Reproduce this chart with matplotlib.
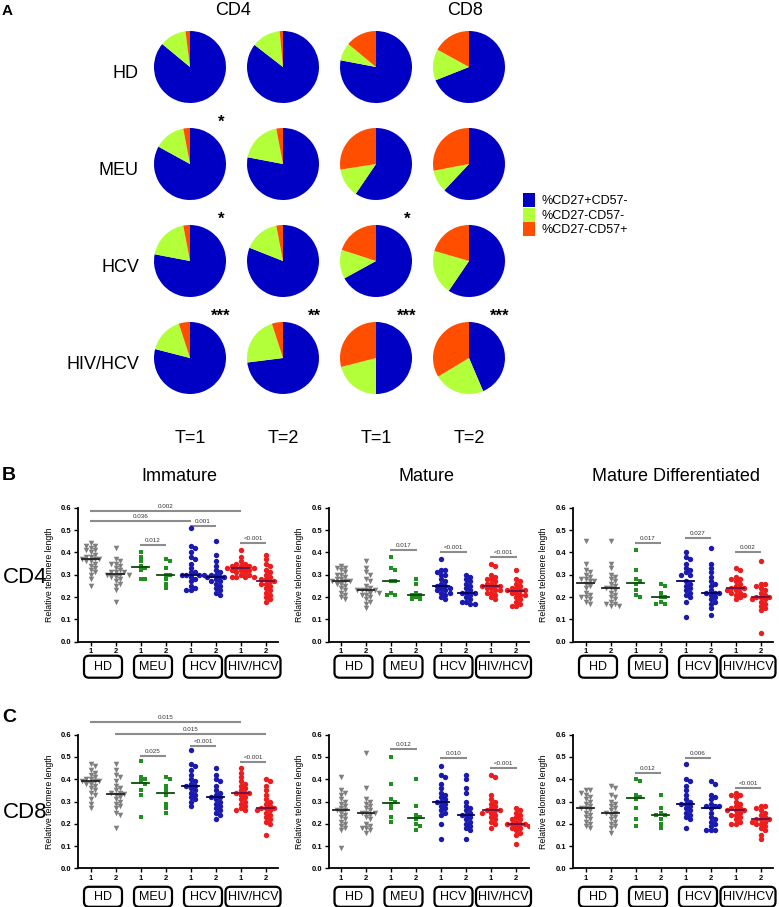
import numpy as np
import matplotlib.pyplot as plt
from matplotlib.patches import FancyBboxPatch, Rectangle
from matplotlib.transforms import IdentityTransform

plt.rcParams['font.family'] = ['Liberation Sans', 'DejaVu Sans']

W, H = 779, 907

# ---------------- panel A data ----------------
pie_rows = ['HD', 'MEU', 'HCV', 'HIV/HCV']
pie_cols = ['T=1', 'T=2', 'T=1', 'T=2']
pie_legend = ['%CD27+CD57-', '%CD27-CD57-', '%CD27-CD57+']
pie_colors = ['#0000c4', '#b2ff3a', '#ff4e00']
# [CD27+CD57-, CD27-CD57-, CD27-CD57+] per row (HD, MEU, HCV, HIV/HCV)
pie_cd4_t1 = [[86, 12, 2], [83, 14, 3], [78, 19, 3], [79, 16, 5]]
pie_cd4_t2 = [[85.5, 13, 1.5], [78, 19, 3], [81, 16, 3], [73, 22, 5]]
pie_cd8_t1 = [[78, 8, 14], [59.5, 13, 27.5], [67, 13, 20], [50, 21, 29]]
pie_cd8_t2 = [[69, 14, 17], [62, 10, 28], [59.5, 20, 20.5], [43.6, 22.8, 33.6]]
pie_stars = [['', '', '', ''], ['*', '', '', ''], ['*', '', '*', ''], ['***', '**', '***', '***']]

# ---------------- panels B / C data ----------------
groups = ['HD', 'MEU', 'HCV', 'HIV/HCV']
xlabels = ['1', '2', '1', '2', '1', '2', '1', '2']
col_titles = ['Immature', 'Mature', 'Mature Differentiated']

imm_cd4 = [
    [0.44, 0.43, 0.43, 0.42, 0.41, 0.41, 0.40, 0.39, 0.38, 0.38, 0.37, 0.37, 0.37, 0.36, 0.36, 0.35, 0.34, 0.33, 0.32, 0.31, 0.30, 0.28, 0.25],
    [0.42, 0.37, 0.36, 0.35, 0.35, 0.34, 0.33, 0.32, 0.31, 0.31, 0.31, 0.30, 0.30, 0.30, 0.29, 0.29, 0.28, 0.27, 0.26, 0.25, 0.23, 0.18],
    [0.40, 0.38, 0.36, 0.34, 0.33, 0.32, 0.28, 0.28],
    [0.37, 0.36, 0.33, 0.30, 0.30, 0.28, 0.26, 0.24],
    [0.51, 0.43, 0.42, 0.40, 0.38, 0.37, 0.35, 0.33, 0.31, 0.31, 0.30, 0.30, 0.30, 0.30, 0.29, 0.28, 0.27, 0.25, 0.24, 0.23, 0.23],
    [0.45, 0.39, 0.36, 0.34, 0.32, 0.31, 0.30, 0.30, 0.29, 0.29, 0.29, 0.28, 0.27, 0.27, 0.26, 0.25, 0.24, 0.23, 0.22, 0.21],
    [0.41, 0.38, 0.36, 0.35, 0.35, 0.34, 0.34, 0.34, 0.33, 0.33, 0.33, 0.33, 0.32, 0.32, 0.32, 0.31, 0.31, 0.30, 0.30, 0.29, 0.29, 0.29, 0.29],
    [0.39, 0.37, 0.35, 0.34, 0.32, 0.31, 0.30, 0.29, 0.28, 0.28, 0.27, 0.27, 0.26, 0.26, 0.25, 0.24, 0.23, 0.22, 0.21, 0.20, 0.19, 0.18],
]
mat_cd4 = [
    [0.34, 0.33, 0.33, 0.32, 0.31, 0.30, 0.30, 0.29, 0.28, 0.28, 0.27, 0.27, 0.27, 0.26, 0.26, 0.25, 0.24, 0.23, 0.22, 0.21, 0.20, 0.19],
    [0.36, 0.33, 0.31, 0.30, 0.28, 0.27, 0.25, 0.24, 0.23, 0.23, 0.23, 0.23, 0.22, 0.22, 0.21, 0.21, 0.20, 0.19, 0.18, 0.17, 0.15],
    [0.38, 0.33, 0.32, 0.27, 0.27, 0.22, 0.21, 0.21],
    [0.28, 0.26, 0.22, 0.21, 0.21, 0.20, 0.19, 0.19],
    [0.37, 0.32, 0.32, 0.31, 0.30, 0.30, 0.28, 0.27, 0.26, 0.25, 0.25, 0.24, 0.24, 0.23, 0.23, 0.22, 0.22, 0.21, 0.20, 0.19],
    [0.30, 0.29, 0.28, 0.27, 0.26, 0.25, 0.24, 0.23, 0.22, 0.22, 0.22, 0.21, 0.20, 0.19, 0.18, 0.18, 0.17, 0.17],
    [0.35, 0.34, 0.30, 0.29, 0.28, 0.28, 0.27, 0.26, 0.26, 0.25, 0.25, 0.25, 0.24, 0.24, 0.23, 0.23, 0.22, 0.22, 0.21, 0.20, 0.19],
    [0.32, 0.28, 0.27, 0.26, 0.25, 0.24, 0.24, 0.23, 0.23, 0.23, 0.22, 0.22, 0.21, 0.21, 0.20, 0.19, 0.18, 0.17, 0.16, 0.16],
]
matd_cd4 = [
    [0.45, 0.35, 0.32, 0.31, 0.30, 0.29, 0.28, 0.28, 0.27, 0.27, 0.26, 0.25, 0.24, 0.22, 0.21, 0.20, 0.20, 0.19, 0.18, 0.17],
    [0.45, 0.35, 0.33, 0.30, 0.29, 0.28, 0.27, 0.26, 0.25, 0.24, 0.24, 0.23, 0.22, 0.21, 0.20, 0.19, 0.18, 0.17, 0.17, 0.16, 0.16],
    [0.41, 0.32, 0.28, 0.27, 0.26, 0.23, 0.21, 0.20],
    [0.26, 0.25, 0.22, 0.20, 0.20, 0.18, 0.17, 0.17],
    [0.40, 0.38, 0.37, 0.35, 0.33, 0.32, 0.31, 0.30, 0.30, 0.27, 0.26, 0.25, 0.24, 0.23, 0.22, 0.21, 0.20, 0.18, 0.11],
    [0.42, 0.35, 0.33, 0.31, 0.29, 0.27, 0.26, 0.25, 0.23, 0.22, 0.22, 0.22, 0.21, 0.20, 0.19, 0.18, 0.17, 0.15, 0.12],
    [0.33, 0.32, 0.29, 0.28, 0.28, 0.27, 0.26, 0.25, 0.24, 0.24, 0.24, 0.23, 0.23, 0.22, 0.22, 0.21, 0.21, 0.20, 0.19],
    [0.36, 0.26, 0.26, 0.25, 0.24, 0.23, 0.22, 0.21, 0.20, 0.20, 0.20, 0.19, 0.19, 0.18, 0.17, 0.16, 0.15, 0.14, 0.04],
]
imm_cd8 = [
    [0.47, 0.46, 0.44, 0.43, 0.42, 0.41, 0.40, 0.40, 0.39, 0.39, 0.39, 0.38, 0.38, 0.37, 0.36, 0.35, 0.34, 0.33, 0.31, 0.29, 0.27],
    [0.47, 0.44, 0.42, 0.41, 0.39, 0.37, 0.36, 0.35, 0.34, 0.34, 0.335, 0.33, 0.32, 0.31, 0.30, 0.29, 0.28, 0.27, 0.25, 0.24, 0.18],
    [0.48, 0.41, 0.40, 0.39, 0.38, 0.35, 0.33, 0.23],
    [0.41, 0.40, 0.37, 0.35, 0.33, 0.29, 0.27, 0.25],
    [0.53, 0.47, 0.46, 0.44, 0.42, 0.40, 0.39, 0.38, 0.37, 0.37, 0.36, 0.35, 0.34, 0.33, 0.32, 0.31, 0.30, 0.28],
    [0.45, 0.42, 0.40, 0.39, 0.37, 0.35, 0.34, 0.33, 0.32, 0.32, 0.31, 0.30, 0.29, 0.28, 0.27, 0.26, 0.25, 0.24, 0.22],
    [0.45, 0.43, 0.41, 0.39, 0.38, 0.37, 0.36, 0.35, 0.34, 0.34, 0.34, 0.33, 0.32, 0.31, 0.30, 0.29, 0.28, 0.27, 0.26, 0.26],
    [0.40, 0.39, 0.37, 0.35, 0.33, 0.31, 0.30, 0.29, 0.28, 0.27, 0.27, 0.27, 0.26, 0.26, 0.25, 0.24, 0.23, 0.22, 0.21, 0.20, 0.15],
]
mat_cd8 = [
    [0.41, 0.35, 0.34, 0.33, 0.31, 0.30, 0.29, 0.28, 0.27, 0.26, 0.26, 0.25, 0.24, 0.23, 0.22, 0.21, 0.20, 0.19, 0.18, 0.17, 0.09],
    [0.52, 0.36, 0.31, 0.30, 0.29, 0.28, 0.27, 0.26, 0.25, 0.25, 0.25, 0.24, 0.23, 0.22, 0.20, 0.19, 0.18, 0.18, 0.17, 0.16],
    [0.50, 0.38, 0.31, 0.30, 0.29, 0.27, 0.23, 0.21],
    [0.40, 0.28, 0.24, 0.23, 0.22, 0.20, 0.19, 0.17],
    [0.46, 0.42, 0.41, 0.38, 0.36, 0.34, 0.33, 0.32, 0.31, 0.30, 0.30, 0.29, 0.28, 0.27, 0.26, 0.25, 0.24, 0.20, 0.13],
    [0.42, 0.40, 0.36, 0.34, 0.30, 0.28, 0.27, 0.26, 0.25, 0.24, 0.24, 0.23, 0.22, 0.21, 0.20, 0.19, 0.18, 0.17, 0.13],
    [0.42, 0.41, 0.33, 0.31, 0.30, 0.29, 0.28, 0.27, 0.26, 0.26, 0.26, 0.25, 0.25, 0.24, 0.23, 0.22, 0.21, 0.20, 0.18],
    [0.27, 0.26, 0.25, 0.24, 0.23, 0.22, 0.22, 0.21, 0.20, 0.20, 0.20, 0.20, 0.19, 0.19, 0.18, 0.18, 0.17, 0.16, 0.15, 0.11],
]
matd_cd8 = [
    [0.35, 0.35, 0.34, 0.33, 0.32, 0.31, 0.30, 0.29, 0.28, 0.27, 0.27, 0.26, 0.25, 0.24, 0.23, 0.22, 0.21, 0.20, 0.19, 0.18],
    [0.37, 0.36, 0.33, 0.32, 0.30, 0.29, 0.28, 0.27, 0.26, 0.25, 0.25, 0.24, 0.23, 0.22, 0.21, 0.20, 0.19, 0.18, 0.16],
    [0.40, 0.39, 0.33, 0.32, 0.31, 0.27, 0.22, 0.19],
    [0.33, 0.27, 0.25, 0.24, 0.24, 0.22, 0.20, 0.18],
    [0.47, 0.40, 0.39, 0.37, 0.35, 0.33, 0.31, 0.30, 0.29, 0.29, 0.28, 0.27, 0.26, 0.25, 0.24, 0.23, 0.22, 0.18],
    [0.39, 0.38, 0.33, 0.32, 0.31, 0.29, 0.28, 0.28, 0.28, 0.27, 0.25, 0.23, 0.22, 0.21, 0.20, 0.19, 0.17, 0.17, 0.17],
    [0.34, 0.33, 0.33, 0.32, 0.30, 0.29, 0.28, 0.27, 0.27, 0.26, 0.26, 0.26, 0.25, 0.24, 0.24, 0.23, 0.22, 0.21, 0.20, 0.20],
    [0.28, 0.28, 0.27, 0.26, 0.25, 0.24, 0.23, 0.22, 0.22, 0.22, 0.21, 0.21, 0.20, 0.20, 0.19, 0.18, 0.17, 0.15, 0.13],
]

# significance bars: (from position, to position, height, p value)
imm_cd4_sig = [(1, 7, 0.585, '0.002'), (1, 5, 0.54, '0.036'), (5, 6, 0.52, '0.001'),
               (3, 4, 0.433, '0.012'), (7, 8, 0.443, '<0.001')]
mat_cd4_sig = [(3, 4, 0.41, '0.017'), (5, 6, 0.40, '<0.001'), (7, 8, 0.378, '<0.001')]
matd_cd4_sig = [(3, 4, 0.44, '0.017'), (5, 6, 0.463, '0.027'), (7, 8, 0.403, '0.002')]
imm_cd8_sig = [(1, 7, 0.658, '0.015'), (2, 8, 0.602, '0.015'), (3, 4, 0.506, '0.025'),
               (5, 6, 0.55, '<0.001'), (7, 8, 0.479, '<0.001')]
mat_cd8_sig = [(3, 4, 0.534, '0.012'), (5, 6, 0.494, '0.010'), (7, 8, 0.452, '<0.001')]
matd_cd8_sig = [(3, 4, 0.427, '0.012'), (5, 6, 0.497, '0.006'), (7, 8, 0.359, '<0.001')]

grp_colors = ['#7f7f7f', '#1f8f1f', '#1a1ab0', '#ee1c1c']
med_colors = ['#222222', '#0b4a0b', '#00005c', '#6a1040']
grp_markers = ['v', 's', 'o', 'o']
grp_sizes = [16, 12, 15, 15]


def fx(x):
    return x / W


def fy(y):
    return 1 - y / H


def swarm(vals, ypx, d=4.4):
    # simple beeswarm in pixel units, returns horizontal offsets in px
    vals = np.asarray(vals)
    order = np.argsort(vals)[::-1]
    steps = [0.0]
    for k in range(1, 30):
        steps += [k * d / 2, -k * d / 2]
    placed = []
    offs = np.zeros(len(vals))
    for i in order:
        y = vals[i] * ypx
        for s in steps:
            if all((s - px) ** 2 + (y - py) ** 2 >= d * d * 0.9 for px, py in placed):
                break
        offs[i] = s
        placed.append((s, y))
    return offs


fig = plt.figure(figsize=(W / 100, H / 100), dpi=100)

# ---------------- panel A ----------------
fig.text(fx(2), fy(15), 'A', fontsize=11, fontweight='bold')
fig.text(fx(233), fy(15), 'CD4', fontsize=13, ha='center', va='baseline')
fig.text(fx(465), fy(15), 'CD8', fontsize=13, ha='center', va='baseline')

pie_cx = [190, 283, 376, 469]
pie_cy = [67, 164, 261, 358]
r = 36
pie_sets = [pie_cd4_t1, pie_cd4_t2, pie_cd8_t1, pie_cd8_t2]
for i, row in enumerate(pie_rows):
    fig.text(fx(139), fy(pie_cy[i] + 11), row, fontsize=13, ha='right', va='baseline')
    for j in range(4):
        ax = fig.add_axes([fx(pie_cx[j] - r), fy(pie_cy[i] + r), 2 * r / W, 2 * r / H])
        ax.pie(pie_sets[j][i], colors=pie_colors, startangle=90, counterclock=False,
               wedgeprops=dict(linewidth=0))
        ax.set_xlim(-1, 1)
        ax.set_ylim(-1, 1)
        ax.axis('off')
        if pie_stars[i][j]:
            fig.text(fx(pie_cx[j] + 31), fy(pie_cy[i] - 37), pie_stars[i][j], fontsize=12,
                     fontweight='bold', ha='center', va='baseline')
for j, lab in enumerate(pie_cols):
    fig.text(fx(pie_cx[j]), fy(443), lab, fontsize=13, ha='center', va='baseline')

for k, lab in enumerate(pie_legend):
    yc = 200 + 14.7 * k
    fig.add_artist(Rectangle((fx(523), fy(yc + 7)), 12 / W, 14 / H, transform=fig.transFigure,
                             facecolor=pie_colors[k], edgecolor='none'))
    fig.text(fx(541), fy(yc + 1), lab, fontsize=9, ha='left', va='center')

# ---------------- panels B and C ----------------
fig.text(fx(2), fy(480), 'B', fontsize=14, fontweight='bold')
fig.text(fx(2), fy(722), 'C', fontsize=14, fontweight='bold')
fig.text(fx(25), fy(583), 'CD4', fontsize=16, ha='center', va='baseline')
fig.text(fx(25), fy(818), 'CD8', fontsize=16, ha='center', va='baseline')

col_x0 = [78, 328.5, 573]
title_x = [179, 427, 676]
for c, t in enumerate(col_titles):
    fig.text(fx(title_x[c]), fy(481), t, fontsize=13, ha='center', va='baseline')

row_top = [507.7, 734.7]
row_bot = [641.7, 868.3]
box_gap = [14, 18.5]
box_h = [22, 20]
panels = [[imm_cd4, mat_cd4, matd_cd4], [imm_cd8, mat_cd8, matd_cd8]]
sigs = [[imm_cd4_sig, mat_cd4_sig, matd_cd4_sig], [imm_cd8_sig, mat_cd8_sig, matd_cd8_sig]]

for rr in range(2):
    for c in range(3):
        x0 = col_x0[c]
        ax = fig.add_axes([fx(x0), fy(row_bot[rr]), 200 / W, (row_bot[rr] - row_top[rr]) / H])
        ax.set_xlim(0.5, 8.5)
        ax.set_ylim(0, 0.6)
        ypx = (row_bot[rr] - row_top[rr]) / 0.6
        data = panels[rr][c]
        for k, vals in enumerate(data):
            g = k // 2
            pos = k + 1
            offs = swarm(vals, ypx)
            ax.scatter(pos + offs / 25.0, vals, marker=grp_markers[g], s=grp_sizes[g],
                       color=grp_colors[g], linewidths=0, zorder=3)
            med = np.median(vals)
            ax.plot([pos - 0.33, pos + 0.33], [med, med], color=med_colors[g], lw=1.3, zorder=4)
        for a, b, y, lab in sigs[rr][c]:
            ax.plot([a - 0.03, b + 0.03], [y, y], color='#8c8c8c', lw=1.5, clip_on=False,
                    solid_capstyle='butt')
            ax.text((a + b) / 2, y + 0.009, lab, fontsize=4.5, ha='center', va='bottom',
                    color='#333333', clip_on=False)
        for s in ['top', 'right']:
            ax.spines[s].set_visible(False)
        for s in ['left', 'bottom']:
            ax.spines[s].set_linewidth(1.3)
        ax.set_yticks(np.arange(0, 0.61, 0.1))
        ax.set_yticklabels(['%.1f' % v for v in np.arange(0, 0.61, 0.1)], fontsize=5.5,
                           fontweight='bold')
        ax.set_xticks(range(1, 9))
        ax.set_xticklabels(xlabels, fontsize=5.5, fontweight='bold')
        ax.tick_params(length=3, width=1, pad=1.5)
        mid = (row_top[rr] + row_bot[rr]) / 2
        fig.text(fx(x0 - 29), fy(mid), 'Relative telomere length', fontsize=6.3,
                 rotation=90, ha='center', va='center')
        # group boxes below the axis
        for g, lab in enumerate(groups):
            cx = ax.transData.transform((2 * g + 1.5, 0))[0]
            bw = 55 if lab == 'HIV/HCV' else 38
            top = row_bot[rr] + box_gap[rr]
            bh = box_h[rr]
            fig.add_artist(FancyBboxPatch((cx - bw / 2, H - top - bh), bw, bh,
                                          boxstyle='round,pad=0,rounding_size=5',
                                          transform=IdentityTransform(), facecolor='white',
                                          edgecolor='black', linewidth=1.6))
            fig.text(fx(cx), fy(top + bh / 2 + 0.5), lab, fontsize=9, ha='center', va='center')

fig.savefig('out.png', dpi=100)
